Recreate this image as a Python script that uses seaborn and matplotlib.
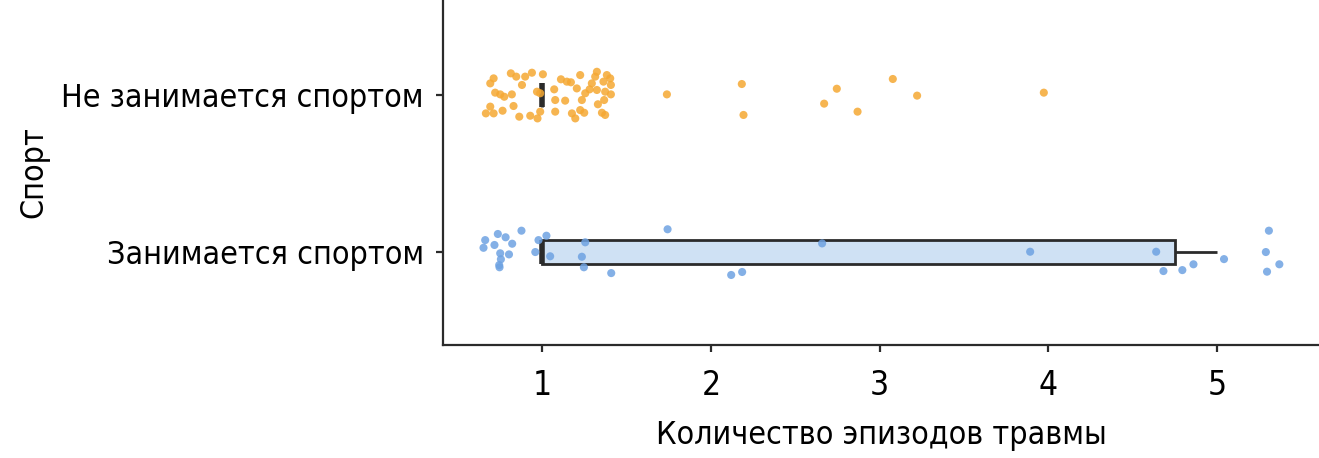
import numpy as np
import pandas as pd
import matplotlib
matplotlib.use("Agg")
import matplotlib.pyplot as plt
import seaborn as sns

groups = ["Не занимается спортом", "Занимается спортом"]

# jittered point positions (x = episodes, dy = vertical jitter)
no_sport_x = [0.712, 0.692, 0.814, 0.846, 0.899, 0.939, 1.004, 0.880, 0.721, 0.751,
              0.775, 0.820, 0.969, 0.692, 0.666, 0.712, 0.765, 0.830, 0.864, 0.929,
              0.972, 0.988, 1.077, 1.077, 1.071, 1.111, 1.146, 1.170, 1.136, 1.205,
              1.225, 1.176, 1.196, 1.225, 1.249, 1.235, 1.255, 1.281, 1.294, 1.314,
              1.324, 1.363, 1.383, 1.403, 1.407, 1.373, 1.407, 1.324, 1.367, 1.330,
              1.354, 1.373, 0.988, 1.739, 2.183, 2.193, 2.746, 2.671, 2.869, 3.078,
              3.222, 3.973]
no_sport_dy = [-0.106, -0.074, -0.138, -0.117, -0.117, -0.142, -0.132, -0.064, -0.015, -0.004,
               0.011, -0.004, -0.021, 0.074, 0.117, 0.117, 0.100, 0.070, 0.138, 0.132,
               0.149, 0.106, 0.106, 0.032, -0.036, -0.100, -0.085, -0.081, 0.036, -0.042,
               -0.127, 0.117, 0.149, 0.096, 0.113, 0.032, -0.011, -0.036, -0.074, -0.117,
               -0.148, -0.085, -0.127, -0.106, -0.064, -0.021, -0.004, -0.032, 0.032, 0.059,
               0.113, 0.127, -0.011, -0.004, -0.070, 0.127, -0.040, 0.055, 0.106, -0.102,
               0.004, -0.015]

sport_x = [0.652, 0.662, 0.717, 0.737, 0.783, 0.822, 0.877, 0.751, 0.803, 0.755,
           0.745, 0.747, 0.959, 0.978, 1.025, 1.047, 1.255, 1.235, 1.247, 1.409,
           1.743, 2.120, 2.185, 2.659, 3.892, 4.639, 4.682, 4.794, 4.860, 5.041,
           5.307, 5.289, 5.369, 5.296]
sport_dy = [-0.027, -0.076, -0.045, -0.115, -0.094, -0.053, -0.136, 0.008, 0.015, 0.046,
            0.083, 0.097, 0.000, -0.076, -0.104, 0.027, -0.062, 0.030, 0.097, 0.134,
            -0.145, 0.146, 0.127, -0.055, -0.002, -0.002, 0.121, 0.115, 0.078, 0.045,
            -0.136, 0.000, 0.078, 0.125]

df = pd.DataFrame({
    "sport": [groups[0]] * len(no_sport_x) + [groups[1]] * len(sport_x),
    "x": no_sport_x + sport_x,
    "dy": no_sport_dy + sport_dy,
})
df["episodes"] = np.round(df["x"])
df["y"] = df["sport"].map({g: i for i, g in enumerate(groups)}) + df["dy"]

sns.set_theme(style="ticks")
plt.rcParams["font.family"] = ["DejaVu Sans"]
plt.rcParams["font.stretch"] = "condensed"
plt.rcParams["text.color"] = "black"
plt.rcParams["axes.labelcolor"] = "black"
plt.rcParams["xtick.labelcolor"] = "black"
plt.rcParams["ytick.labelcolor"] = "black"

fig = plt.figure(figsize=(13.19, 4.58), dpi=100)
ax = fig.add_axes([0.336, 0.2467, 0.664, 0.7533])

dark = "#2b2b2b"
sns.boxplot(data=df, x="episodes", y="sport", hue="sport", order=groups,
            palette={groups[0]: "#fde3b5", groups[1]: "#cfe1f4"}, legend=False,
            saturation=1, width=0.155, showfliers=False, showcaps=False,
            linecolor=dark, linewidth=2, medianprops={"linewidth": 4, "color": dark},
            whiskerprops={"linewidth": 2}, ax=ax)

sns.scatterplot(data=df, x="x", y="y", hue="sport",
                palette={groups[0]: "#f5a833", groups[1]: "#6ea2e2"},
                s=34, alpha=0.85, edgecolor="none", legend=False, ax=ax, zorder=3)

ax.set_xlim(0.413, 5.604)
ax.set_ylim(1.592, -0.605)
ax.set_xticks([1, 2, 3, 4, 5])
ax.set_yticks([0, 1])
ax.set_yticklabels(groups)
ax.tick_params(labelsize=23, length=5, width=1.6, color=dark, pad=9)
ax.tick_params(axis="x", labelsize=24, pad=12)
for s in ["left", "bottom"]:
    ax.spines[s].set_linewidth(1.6)
    ax.spines[s].set_color(dark)
sns.despine(ax=ax)

ax.set_xlabel("Количество эпизодов травмы", fontsize=23, labelpad=13)
ax.set_ylabel("Спорт", fontsize=23)
ax.yaxis.set_label_coords(-0.45, 0.5)

fig.savefig("out.png", dpi=100)
